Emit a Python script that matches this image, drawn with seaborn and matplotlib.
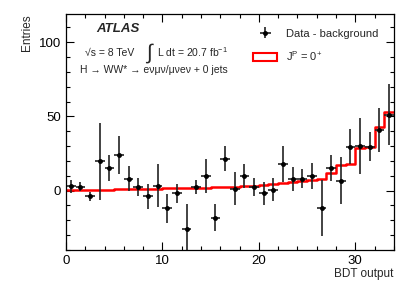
import numpy as np
import seaborn as sns
import matplotlib.pyplot as plt
from matplotlib.patches import Patch
from matplotlib.ticker import MultipleLocator

# Данные: разность data - background по бинам BDT output (ширина бина 1)
bin_edges = list(range(0, 35))
data_values = [2.9, 2.5, -3.8, 19.9, 15.4, 24.0, 8.1, 2.3, -3.8, 3.4,
               -12.0, -1.8, -26.0, 2.5, 9.7, -18.1, 21.5, 1.4, 9.7, 2.5,
               -1.8, 0.7, 18.1, 7.9, 8.1, 9.7, -11.8, 15.4, 6.8, 29.6,
               30.1, 29.6, 40.9, 51.1]
data_errors = [4.5, 3.0, 3.0, 26.0, 8.7, 12.8, 8.5, 6.0, 8.5, 14.4,
               10.0, 6.2, 17.0, 4.5, 11.5, 9.3, 8.3, 11.3, 8.0, 6.2,
               7.7, 7.8, 12.2, 8.0, 6.5, 8.8, 18.7, 8.7, 15.8, 11.6,
               18.9, 9.6, 14.7, 20.6]
signal_values = [0.1, 0.3, 0.4, 0.6, 0.7, 0.8, 1.0, 1.1, 1.3, 1.4,
                 1.5, 1.7, 1.8, 1.9, 2.1, 2.2, 2.4, 2.5, 3.0, 3.0,
                 3.5, 4.2, 4.9, 6.0, 6.3, 7.4, 8.0, 12.0, 17.2, 17.9,
                 28.5, 29.6, 43.2, 52.7]

centers = np.array(bin_edges[:-1]) + 0.5

sns.set_theme(style="ticks")
plt.rcParams['font.family'] = ['Liberation Sans', 'DejaVu Sans']
plt.rcParams['mathtext.fontset'] = 'custom'
plt.rcParams['mathtext.rm'] = 'Liberation Sans'
plt.rcParams['mathtext.it'] = 'Liberation Sans:italic'

fig = plt.figure(figsize=(4.15, 2.98), dpi=100)
ax = fig.add_axes([0.159, 0.161, 0.79, 0.792])

# Сигнал J^P = 0^+ (ступенчатая гистограмма)
sns.histplot(x=centers, weights=signal_values, bins=bin_edges, element="step",
             fill=False, color='red', linewidth=1.8, ax=ax)

# Данные - фон
eb = ax.errorbar(centers, data_values, xerr=0.5, yerr=data_errors, fmt='o',
                 color='black', ecolor='#222222', markersize=2.5,
                 elinewidth=1.2, capsize=0)

ax.set_xlim(0, 34)
ax.set_ylim(-40, 119)
ax.set_xlabel('BDT output', fontsize=8.5, loc='right', labelpad=1)
ax.set_ylabel('Entries', fontsize=8.5, loc='top')
ax.xaxis.set_major_locator(MultipleLocator(10))
ax.xaxis.set_minor_locator(MultipleLocator(2))
ax.yaxis.set_major_locator(MultipleLocator(50))
ax.yaxis.set_minor_locator(MultipleLocator(10))
ax.tick_params(which='both', direction='in', top=True, right=True,
               labelsize=9.5, width=0.8, colors='black')
ax.tick_params(which='major', length=6)
ax.tick_params(which='minor', length=3)
for s in ax.spines.values():
    s.set_linewidth(0.9)
    s.set_color('black')

# Подписи ATLAS
ax.text(3.1, 109, 'ATLAS', fontsize=9.5, fontweight='bold', fontstyle='italic',
        va='center')
ax.text(1.97, 93, '√s = 8 TeV', fontsize=7.5, va='center')
ax.text(8.3, 93, '∫', fontsize=15, va='center')
ax.text(9.43, 93, r'L dt = 20.7 fb$^{-1}$', fontsize=7.5, va='center')
ax.text(1.45, 81, 'H → WW* → eνμν/μνeν + 0 jets', fontsize=7.5, va='center')

handles = [eb, Patch(facecolor='white', edgecolor='red', linewidth=1.5)]
labels = ['Data - background', r'J$^{\rm P}$ = 0$^{+}$']
ax.legend(handles, labels, loc='upper left', bbox_to_anchor=(0.54, 0.98),
          frameon=False, fontsize=8, handlelength=2.2, labelspacing=0.9)

fig.savefig('out.png', dpi=100)
